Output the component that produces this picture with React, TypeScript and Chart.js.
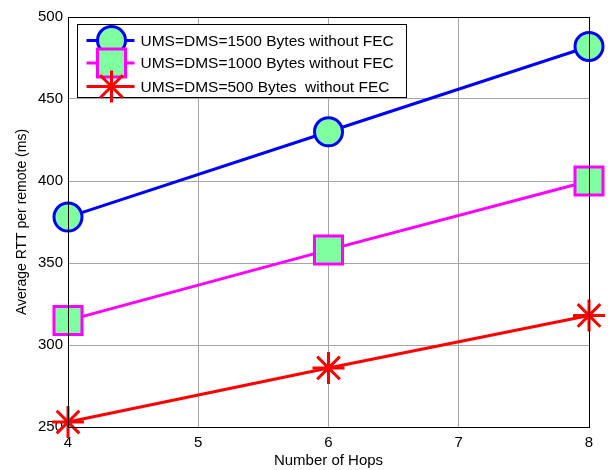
import React, { useEffect, useRef } from "react";
import { Chart, registerables } from "chart.js";

Chart.register(...registerables);

const hops = [4, 6, 8];
const rtt1500 = [378, 430, 482];
const rtt1000 = [315, 358, 400];
const rtt500 = [253, 286, 318];
const seriesLabels = [
  "UMS=DMS=1500 Bytes without FEC",
  "UMS=DMS=1000 Bytes without FEC",
  "UMS=DMS=500 Bytes  without FEC",
];
const xTitle = "Number of Hops";
const yTitle = "Average RTT per remote (ms)";

const FONT = "'Liberation Sans', Arial, sans-serif";
const FILL = "rgb(128,255,160)";
const BLUE = "#0000ff";
const MAGENTA = "#ff00ff";
const RED = "#ff0000";

const boxPlugin = {
  id: "boxPlugin",
  afterDatasetsDraw(chart: any) {
    const { ctx, chartArea: a } = chart;
    ctx.save();
    ctx.strokeStyle = "#000";
    ctx.lineWidth = 1;
    ctx.strokeRect(Math.round(a.left) + 0.5, Math.round(a.top) + 0.5, Math.round(a.right - a.left), Math.round(a.bottom - a.top));
    ctx.restore();
  },
};

const legendPlugin = {
  id: "customLegend",
  afterDraw(chart: any) {
    const { ctx, chartArea: a } = chart;
    const bx = a.left + 9.5;
    const by = a.top + 7.5;
    const bw = 329;
    const bh = 73;
    ctx.save();
    ctx.fillStyle = "#fff";
    ctx.fillRect(bx, by, bw, bh);
    ctx.strokeStyle = "#000";
    ctx.lineWidth = 1;
    ctx.strokeRect(bx, by, bw, bh);
    const rows = [by + 16, by + 38.5, by + 62];
    const lx0 = bx + 9;
    const lx1 = bx + 57;
    const mx = bx + 34;
    const colors = [BLUE, MAGENTA, RED];
    rows.forEach((y, i) => {
      ctx.strokeStyle = colors[i];
      ctx.lineWidth = 3;
      ctx.beginPath();
      ctx.moveTo(lx0, y);
      ctx.lineTo(lx1, y);
      ctx.stroke();
      if (i === 0) {
        ctx.fillStyle = FILL;
        ctx.beginPath();
        ctx.arc(mx, y, 14, 0, Math.PI * 2);
        ctx.fill();
        ctx.stroke();
      } else if (i === 1) {
        ctx.fillStyle = FILL;
        ctx.fillRect(mx - 14, y - 14, 28, 28);
        ctx.strokeRect(mx - 14, y - 14, 28, 28);
      } else {
        const r = 16;
        ctx.beginPath();
        ctx.moveTo(mx - r, y);
        ctx.lineTo(mx + r, y);
        ctx.moveTo(mx, y - r);
        ctx.lineTo(mx, y + r);
        const d = r * Math.SQRT1_2;
        ctx.moveTo(mx - d, y - d);
        ctx.lineTo(mx + d, y + d);
        ctx.moveTo(mx - d, y + d);
        ctx.lineTo(mx + d, y - d);
        ctx.stroke();
      }
      ctx.fillStyle = "#000";
      ctx.font = `15.5px ${FONT}`;
      ctx.textBaseline = "middle";
      ctx.textAlign = "left";
      ctx.fillText(seriesLabels[i], bx + 63, y + 1);
    });
    ctx.restore();
  },
};

export default function App() {
  const ref = useRef<HTMLCanvasElement>(null);
  useEffect(() => {
    const toXY = (vals: number[]) => hops.map((x, i) => ({ x, y: vals[i] }));
    const chart = new Chart(ref.current!, {
      type: "line",
      data: {
        datasets: [
          {
            label: seriesLabels[0],
            data: toXY(rtt1500),
            borderColor: BLUE,
            backgroundColor: FILL,
            borderWidth: 3,
            pointStyle: "circle",
            pointRadius: 14,
            pointBorderWidth: 3,
            pointBorderColor: BLUE,
            pointBackgroundColor: FILL,
            clip: false,
          } as any,
          {
            label: seriesLabels[1],
            data: toXY(rtt1000),
            borderColor: MAGENTA,
            backgroundColor: FILL,
            borderWidth: 3,
            pointStyle: "rect",
            pointRadius: 19.8,
            pointBorderWidth: 3,
            pointBorderColor: MAGENTA,
            pointBackgroundColor: FILL,
            clip: false,
          } as any,
          {
            label: seriesLabels[2],
            data: toXY(rtt500),
            borderColor: RED,
            backgroundColor: RED,
            borderWidth: 3,
            pointStyle: "star",
            pointRadius: 16,
            pointBorderWidth: 3,
            pointBorderColor: RED,
            pointBackgroundColor: RED,
            clip: false,
          } as any,
        ],
      },
      options: {
        animation: false,
        responsive: false,
        layout: { autoPadding: false, padding: { top: 17, right: 19, left: 0, bottom: 0 } },
        plugins: { legend: { display: false }, tooltip: { enabled: false } },
        elements: { line: { tension: 0 } },
        scales: {
          x: {
            type: "linear",
            min: 4,
            max: 8,
            afterFit: (s: any) => {
              s.height = 43;
              s.paddingLeft = 0;
              s.paddingRight = 0;
            },
            ticks: { stepSize: 1, color: "#000", font: { family: FONT, size: 15 }, padding: 7 },
            grid: { color: "#a6a6a6", lineWidth: 1, drawTicks: false },
            border: { display: true, color: "#000", width: 1 },
            title: { display: true, text: xTitle, color: "#000", font: { family: FONT, size: 15 }, padding: { top: 0, bottom: 0 } },
          },
          y: {
            type: "linear",
            min: 250,
            max: 500,
            afterFit: (s: any) => {
              s.width = 68;
              s.paddingTop = 0;
              s.paddingBottom = 0;
            },
            ticks: { stepSize: 50, color: "#000", font: { family: FONT, size: 15 }, padding: 5 },
            grid: { color: "#a6a6a6", lineWidth: 1, drawTicks: false },
            border: { display: true, color: "#000", width: 1 },
            title: { display: true, text: yTitle, color: "#000", font: { family: FONT, size: 14 }, padding: { top: 14, bottom: 0 } },
          },
        },
      },
      plugins: [boxPlugin, legendPlugin],
    });
    return () => chart.destroy();
  }, []);
  return (
    <div style={{ position: "absolute", left: 0, top: 0, width: 608, height: 470, background: "#fff" }}>
      <canvas ref={ref} width={608} height={470} style={{ display: "block" }} />
    </div>
  );
}
